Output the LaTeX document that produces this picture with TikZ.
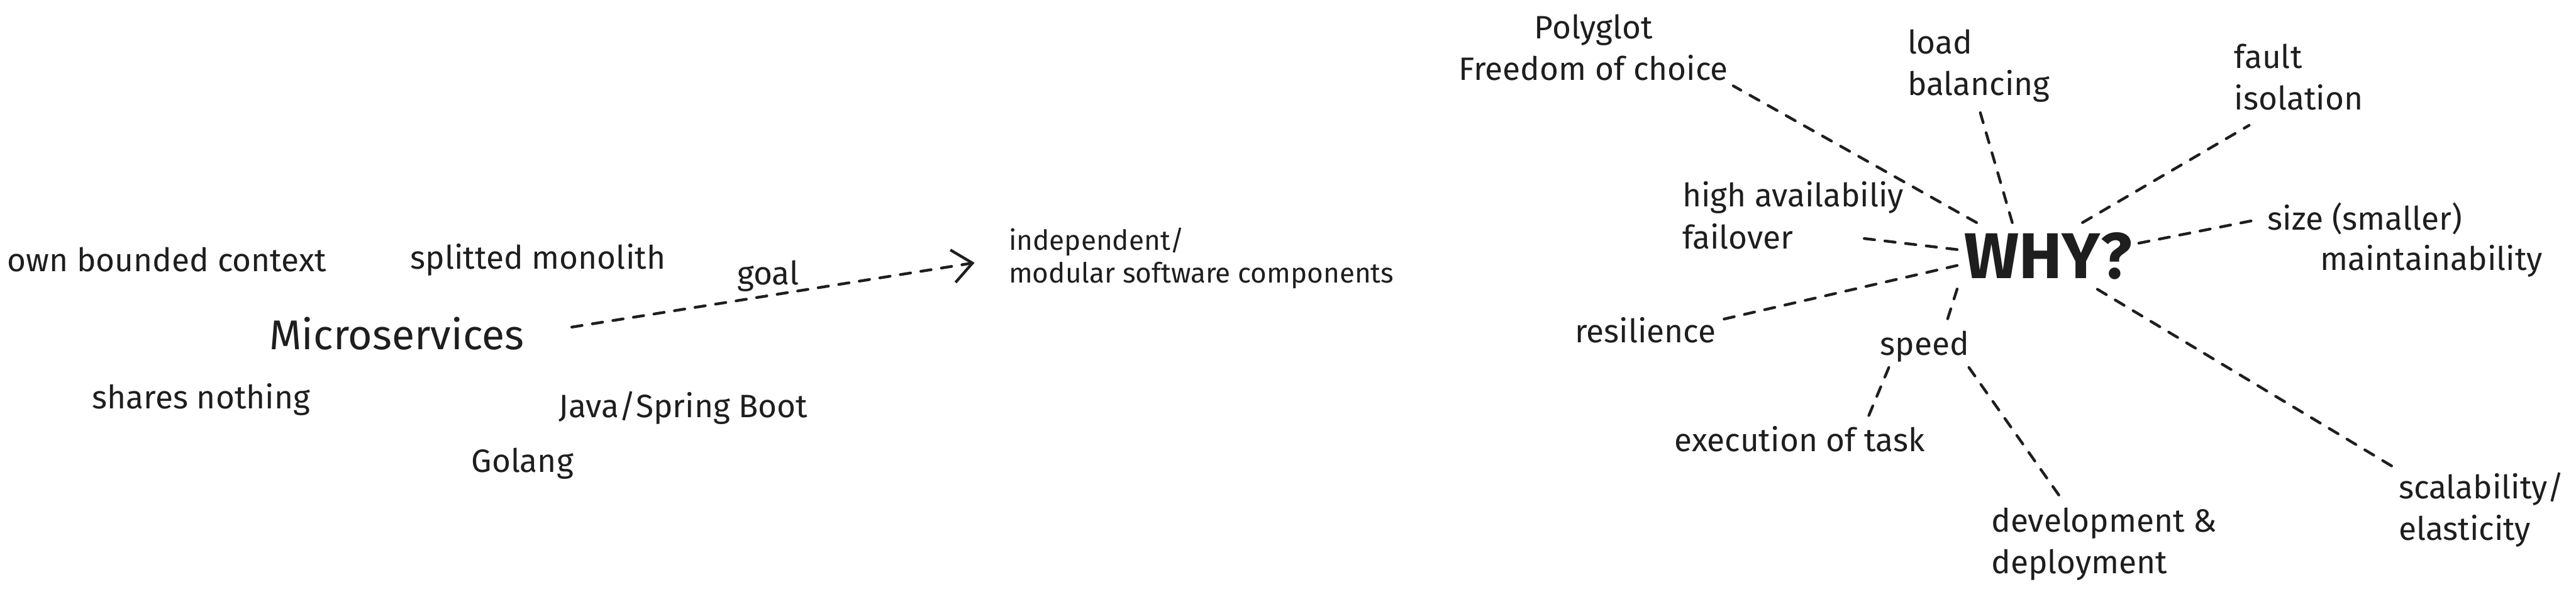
\documentclass[tikz,border=0pt]{standalone}
\usepackage{fontspec}
\setmainfont{Fira Sans}
\usetikzlibrary{arrows.meta}
\definecolor{ink}{HTML}{1E1E1E}

\begin{document}
\begin{tikzpicture}[
  x=0.025cm, y=-0.025cm,
  lbl/.style={text=ink, inner sep=2pt, font=\fontsize{14}{18}\selectfont},
  multi/.style={lbl, align=left, anchor=west},
  title/.style={text=ink, inner sep=2pt, font=\fontsize{18}{22}\selectfont},
  note/.style={text=ink, inner sep=2pt, align=left, anchor=west,
               font=\fontsize{12}{14.2}\selectfont},
  hub/.style={text=ink, inner sep=0pt, minimum width=2.75cm, minimum height=1cm,
              font=\bfseries\fontsize{28}{30}\selectfont},
  link/.style={draw=ink, line width=1.2pt, dash pattern=on 4.5pt off 4.5pt,
               line cap=round},
  >={Straight Barb[length=3mm,width=5mm]}
]
\useasboundingbox (0,0) rectangle (1568,361);

\node[lbl]   (own)    at (101.5,158) {own bounded context};
\node[lbl]   (split)  at (327.5,158) {splitted monolith};
\node[title] (micro)  at (241.5,203) {Microservices};
\node[lbl]   (shares) at (122.5,243) {shares nothing};
\node[lbl]   (java)   at (416,248)   {Java/Spring Boot};
\node[lbl]   (golang) at (318,282)   {Golang};
\node[lbl]   (goal)   at (467.5,168) {goal};
\node[note]  (indep)  at (611,157)   {independent/\\modular software components};

\node[hub]   (why)    at (1246.6,155.7) {WHY?};
\node[lbl, align=center] (poly) at (970,29) {Polyglot\\Freedom of choice};
\node[multi] (load)   at (1158,40)   {load\\balancing};
\node[multi] (fault)  at (1357,47)   {fault\\isolation};
\node[multi] (high)   at (1021,131)  {high availabiliy\\failover};
\node[lbl]   (size)   at (1439.5,133) {size (smaller)};
\node[lbl]   (maint)  at (1480,159)  {maintainability};
\node[lbl]   (resil)  at (1001.5,201) {resilience};
\node[lbl]   (speed)  at (1171.5,211) {speed};
\node[lbl]   (exec)   at (1095.5,267) {execution of task};
\node[multi] (dev)    at (1209,331)  {development \&\\deployment};
\node[multi] (scal)   at (1457,310)  {scalability/\\elasticity};

\draw[link, ->, shorten >=0.45cm] ([xshift=0.65cm, yshift=0.1cm]micro.east) -- (indep.west);

\draw[link] (why.155) -- (poly.south east);
\draw[link] (why.137) -- (load.south);
\draw[link] (why.44)  -- ([xshift=0.3cm, yshift=-0.15cm]fault.south west);
\draw[link, shorten >=0.15cm] (why.8) -- (size.west);
\draw[link] (why.-34) -- (scal.north west);
\draw[link] (why.176) -- ([xshift=-0.8cm, yshift=0.25cm]high.south east);
\draw[link] (why.186) -- (resil.8);
\draw[link] (why.200) -- (speed.45);
\draw[link] (speed.210) -- (exec.15);
\draw[link] (speed.-25) -- (dev.134);
\end{tikzpicture}
\end{document}
